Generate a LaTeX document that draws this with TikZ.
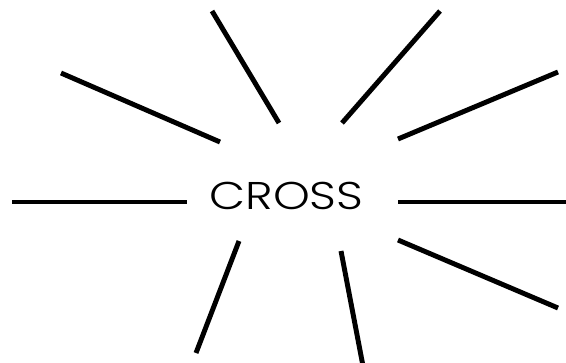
\documentclass[tikz,border=0pt]{standalone}
\usepackage{fontspec}
\setmainfont{Poppins}[UprightFont=* Light]
\usetikzlibrary{positioning}
\tikzset{
	ray/.style={
			line width=3.7pt,
			draw=black
		},
	wordnode/.style={
			inner sep=0pt,
			font=\fontsize{29}{32}\selectfont
		}
}

\begin{document}
\begin{tikzpicture}[x=0.75pt, y=0.75pt]
\useasboundingbox (0,0) rectangle (566,362);
    \node[wordnode, anchor=base] (word) at (286.5,153) {\scalebox{1.21}[1]{CROSS}};

    \coordinate (l1) at (12,160);   \coordinate (l2) at (187,160);
    \coordinate (r1) at (398,160);  \coordinate (r2) at (570,160);
    \coordinate (ul1) at (61,289);  \coordinate (ul2) at (220,220);
    \coordinate (u1) at (212,351);  \coordinate (u2) at (279,239);
    \coordinate (ur1) at (440,351); \coordinate (ur2) at (342,239);
    \coordinate (re1) at (398,223); \coordinate (re2) at (558,290);
    \coordinate (rl1) at (398,122); \coordinate (rl2) at (558,54);
    \coordinate (bm1) at (341,111); \coordinate (bm2) at (363,-4);
    \coordinate (bl1) at (239,121); \coordinate (bl2) at (196,9);

    \draw[ray] (l1) -- (l2);
    \draw[ray] (r1) -- (r2);
    \draw[ray] (ul1) -- (ul2);
    \draw[ray] (u1) -- (u2);
    \draw[ray] (ur1) -- (ur2);
    \draw[ray] (re1) -- (re2);
    \draw[ray] (rl1) -- (rl2);
    \draw[ray] (bm1) -- (bm2);
    \draw[ray] (bl1) -- (bl2);

\end{tikzpicture}
\end{document}
